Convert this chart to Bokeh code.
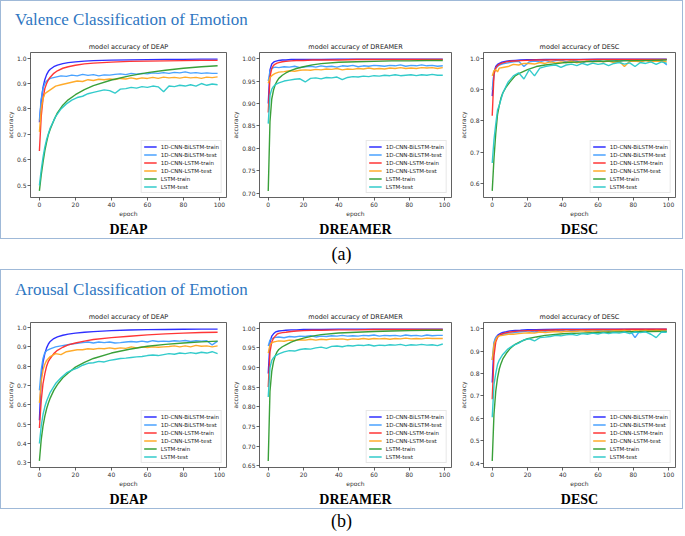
from bokeh.plotting import figure
from bokeh.layouts import column, row
from bokeh.models import Div, Title, Range1d, FixedTicker, Legend, LegendItem, NumeralTickFormatter
from bokeh.embed import file_html
from bokeh.resources import INLINE

# ---------------- data ----------------
TRAIN_EP = [0, 1, 2, 3, 4, 5, 6, 8, 10, 13, 16, 20, 25, 30, 40, 50, 60, 70, 80, 90, 99]
TEST_EP = [0, 1, 2, 3, 4, 6, 9, 12, 15, 18, 21, 24, 27, 30, 33, 36, 39, 42, 45, 48, 51, 54,
           57, 60, 63, 66, 69, 72, 75, 78, 81, 84, 87, 90, 93, 96, 99]
X_TICKS = [0, 20, 40, 60, 80, 100]

LABELS = ["1D-CNN-BiLSTM-train", "1D-CNN-BiLSTM-test", "1D-CNN-LSTM-train",
          "1D-CNN-LSTM-test", "LSTM-train", "LSTM-test"]

PANEL_TITLES = ["Valence Classification of Emotion", "Arousal Classification of Emotion"]
PANEL_TAGS = ["(a)", "(b)"]
DATASETS = ["DEAP", "DREAMER", "DESC"]

# (a) Valence - DEAP
A_DEAP_BI_TRAIN = [0.748, 0.83, 0.885, 0.915, 0.935, 0.948, 0.956, 0.966, 0.972, 0.978, 0.982, 0.985, 0.988, 0.99, 0.992, 0.993, 0.994, 0.995, 0.995, 0.996, 0.996]
A_DEAP_BI_TEST = [0.755, 0.84, 0.88, 0.9, 0.91, 0.92, 0.925, 0.93, 0.928, 0.933, 0.93, 0.936, 0.932, 0.935, 0.93, 0.934, 0.933, 0.936, 0.938, 0.935, 0.94, 0.937, 0.94, 0.938, 0.942, 0.94, 0.943, 0.94, 0.944, 0.942, 0.946, 0.941, 0.943, 0.94, 0.942, 0.94, 0.94]
A_DEAP_CL_TRAIN = [0.635, 0.77, 0.84, 0.88, 0.9, 0.915, 0.925, 0.94, 0.95, 0.96, 0.966, 0.972, 0.977, 0.98, 0.984, 0.987, 0.988, 0.989, 0.99, 0.991, 0.991]
A_DEAP_CL_TEST = [0.71, 0.8, 0.84, 0.86, 0.865, 0.875, 0.89, 0.895, 0.9, 0.905, 0.91, 0.908, 0.915, 0.912, 0.917, 0.915, 0.918, 0.916, 0.92, 0.918, 0.922, 0.918, 0.922, 0.92, 0.924, 0.92, 0.925, 0.922, 0.924, 0.921, 0.925, 0.922, 0.924, 0.92, 0.925, 0.923, 0.926]
A_DEAP_LS_TRAIN = [0.478, 0.54, 0.59, 0.635, 0.67, 0.70, 0.72, 0.755, 0.785, 0.815, 0.836, 0.856, 0.876, 0.892, 0.914, 0.93, 0.943, 0.952, 0.96, 0.966, 0.97]
A_DEAP_LS_TEST = [0.5, 0.56, 0.61, 0.65, 0.68, 0.725, 0.77, 0.8, 0.82, 0.835, 0.845, 0.85, 0.86, 0.865, 0.87, 0.875, 0.872, 0.862, 0.878, 0.88, 0.885, 0.882, 0.888, 0.885, 0.89, 0.887, 0.868, 0.89, 0.888, 0.893, 0.89, 0.895, 0.89, 0.9, 0.893, 0.898, 0.895]
A_DEAP_YTICKS = [0.5, 0.6, 0.7, 0.8, 0.9, 1.0]

# (a) Valence - DREAMER
A_DRM_BI_TRAIN = [0.90, 0.975, 0.988, 0.992, 0.994, 0.995, 0.996, 0.997, 0.997, 0.998, 0.998, 0.998, 0.998, 0.998, 0.999, 0.999, 0.999, 0.999, 0.999, 0.999, 0.999]
A_DRM_BI_TEST = [0.95, 0.972, 0.978, 0.98, 0.981, 0.98, 0.982, 0.981, 0.983, 0.98, 0.982, 0.983, 0.981, 0.984, 0.982, 0.983, 0.981, 0.984, 0.983, 0.985, 0.982, 0.984, 0.983, 0.985, 0.984, 0.983, 0.985, 0.984, 0.986, 0.983, 0.985, 0.984, 0.986, 0.984, 0.985, 0.983, 0.984]
A_DRM_CL_TRAIN = [0.88, 0.96, 0.978, 0.985, 0.988, 0.99, 0.991, 0.993, 0.994, 0.995, 0.996, 0.996, 0.997, 0.997, 0.997, 0.998, 0.998, 0.998, 0.998, 0.998, 0.998]
A_DRM_CL_TEST = [0.945, 0.958, 0.962, 0.965, 0.967, 0.97, 0.971, 0.973, 0.972, 0.974, 0.975, 0.974, 0.976, 0.975, 0.977, 0.976, 0.978, 0.975, 0.977, 0.976, 0.978, 0.977, 0.979, 0.977, 0.978, 0.977, 0.979, 0.978, 0.98, 0.978, 0.979, 0.978, 0.98, 0.979, 0.98, 0.978, 0.98]
A_DRM_LS_TRAIN = [0.705, 0.86, 0.91, 0.93, 0.942, 0.95, 0.956, 0.963, 0.968, 0.974, 0.978, 0.982, 0.986, 0.989, 0.992, 0.993, 0.994, 0.995, 0.995, 0.996, 0.996]
A_DRM_LS_TEST = [0.855, 0.918, 0.932, 0.938, 0.942, 0.946, 0.95, 0.952, 0.954, 0.955, 0.948, 0.956, 0.957, 0.955, 0.958, 0.957, 0.959, 0.953, 0.958, 0.96, 0.959, 0.961, 0.96, 0.962, 0.961, 0.963, 0.962, 0.964, 0.962, 0.963, 0.964, 0.962, 0.964, 0.963, 0.965, 0.963, 0.963]
A_DRM_YTICKS = [0.70, 0.75, 0.80, 0.85, 0.90, 0.95, 1.00]

# (a) Valence - DESC
A_DSC_BI_TRAIN = [0.88, 0.955, 0.975, 0.982, 0.985, 0.988, 0.99, 0.992, 0.994, 0.995, 0.996, 0.997, 0.997, 0.998, 0.998, 0.998, 0.999, 0.999, 0.999, 0.999, 0.999]
A_DSC_BI_TEST = [0.9, 0.955, 0.97, 0.975, 0.98, 0.984, 0.987, 0.99, 0.992, 0.975, 0.99, 0.993, 0.99, 0.995, 0.99, 0.994, 0.996, 0.99, 0.995, 0.992, 0.985, 0.995, 0.993, 0.996, 0.99, 0.995, 0.997, 0.992, 0.996, 0.994, 0.997, 0.99, 0.996, 0.993, 0.996, 0.995, 0.98]
A_DSC_CL_TRAIN = [0.817, 0.95, 0.97, 0.978, 0.982, 0.985, 0.987, 0.99, 0.992, 0.993, 0.994, 0.995, 0.996, 0.996, 0.997, 0.997, 0.998, 0.998, 0.998, 0.998, 0.998]
A_DSC_CL_TEST = [0.945, 0.962, 0.965, 0.958, 0.97, 0.972, 0.975, 0.982, 0.98, 0.985, 0.985, 0.983, 0.988, 0.985, 0.99, 0.987, 0.99, 0.988, 0.992, 0.987, 0.99, 0.993, 0.99, 0.992, 0.99, 0.993, 0.988, 0.992, 0.975, 0.992, 0.993, 0.99, 0.994, 0.99, 0.993, 0.992, 0.99]
A_DSC_LS_TRAIN = [0.575, 0.68, 0.76, 0.82, 0.85, 0.875, 0.89, 0.91, 0.925, 0.945, 0.955, 0.965, 0.975, 0.98, 0.987, 0.99, 0.992, 0.993, 0.994, 0.995, 0.996]
A_DSC_LS_TEST = [0.665, 0.74, 0.79, 0.835, 0.85, 0.89, 0.925, 0.945, 0.955, 0.935, 0.965, 0.945, 0.97, 0.975, 0.978, 0.98, 0.972, 0.98, 0.983, 0.978, 0.985, 0.98, 0.986, 0.982, 0.985, 0.978, 0.985, 0.988, 0.983, 0.987, 0.975, 0.988, 0.985, 0.99, 0.982, 0.99, 0.985]
A_DSC_YTICKS = [0.6, 0.7, 0.8, 0.9, 1.0]

# (b) Arousal - DEAP
B_DEAP_BI_TRAIN = [0.52, 0.74, 0.82, 0.865, 0.895, 0.915, 0.928, 0.943, 0.952, 0.96, 0.966, 0.971, 0.976, 0.979, 0.984, 0.987, 0.989, 0.99, 0.991, 0.992, 0.992]
B_DEAP_BI_TEST = [0.675, 0.78, 0.84, 0.87, 0.88, 0.89, 0.9, 0.905, 0.91, 0.915, 0.918, 0.922, 0.925, 0.92, 0.925, 0.922, 0.925, 0.92, 0.922, 0.925, 0.928, 0.925, 0.93, 0.925, 0.932, 0.928, 0.93, 0.928, 0.932, 0.93, 0.933, 0.928, 0.932, 0.93, 0.932, 0.91, 0.93]
B_DEAP_CL_TRAIN = [0.48, 0.62, 0.71, 0.76, 0.8, 0.825, 0.84, 0.865, 0.882, 0.898, 0.91, 0.92, 0.93, 0.938, 0.948, 0.955, 0.962, 0.967, 0.971, 0.974, 0.976]
B_DEAP_CL_TEST = [0.61, 0.72, 0.78, 0.81, 0.83, 0.85, 0.865, 0.86, 0.875, 0.88, 0.885, 0.885, 0.89, 0.888, 0.892, 0.89, 0.895, 0.89, 0.895, 0.892, 0.9, 0.895, 0.9, 0.897, 0.9, 0.898, 0.9, 0.902, 0.905, 0.9, 0.905, 0.9, 0.908, 0.903, 0.905, 0.9, 0.905]
B_DEAP_LS_TRAIN = [0.31, 0.42, 0.49, 0.54, 0.58, 0.61, 0.635, 0.675, 0.705, 0.74, 0.765, 0.795, 0.82, 0.84, 0.868, 0.888, 0.903, 0.913, 0.92, 0.926, 0.93]
B_DEAP_LS_TEST = [0.4, 0.49, 0.55, 0.59, 0.62, 0.665, 0.71, 0.74, 0.765, 0.78, 0.79, 0.805, 0.815, 0.818, 0.825, 0.822, 0.83, 0.835, 0.84, 0.842, 0.845, 0.848, 0.85, 0.855, 0.858, 0.855, 0.86, 0.865, 0.862, 0.868, 0.865, 0.87, 0.866, 0.872, 0.868, 0.875, 0.865]
B_DEAP_YTICKS = [0.3, 0.4, 0.5, 0.6, 0.7, 0.8, 0.9, 1.0]

# (b) Arousal - DREAMER
B_DRM_BI_TRAIN = [0.885, 0.965, 0.98, 0.986, 0.99, 0.992, 0.993, 0.994, 0.995, 0.996, 0.996, 0.997, 0.997, 0.997, 0.998, 0.998, 0.998, 0.998, 0.998, 0.998, 0.998]
B_DRM_BI_TEST = [0.955, 0.97, 0.974, 0.975, 0.977, 0.978, 0.976, 0.979, 0.978, 0.98, 0.979, 0.981, 0.978, 0.98, 0.979, 0.981, 0.98, 0.982, 0.98, 0.981, 0.98, 0.982, 0.981, 0.983, 0.98, 0.982, 0.981, 0.982, 0.98, 0.983, 0.981, 0.982, 0.98, 0.983, 0.981, 0.982, 0.982]
B_DRM_CL_TRAIN = [0.85, 0.94, 0.965, 0.975, 0.98, 0.985, 0.987, 0.989, 0.99, 0.992, 0.993, 0.994, 0.995, 0.995, 0.996, 0.996, 0.997, 0.997, 0.997, 0.997, 0.997]
B_DRM_CL_TEST = [0.937, 0.958, 0.963, 0.965, 0.966, 0.968, 0.967, 0.97, 0.969, 0.971, 0.97, 0.972, 0.97, 0.972, 0.971, 0.973, 0.972, 0.973, 0.971, 0.973, 0.972, 0.974, 0.972, 0.974, 0.973, 0.974, 0.972, 0.974, 0.973, 0.975, 0.973, 0.974, 0.973, 0.975, 0.974, 0.974, 0.974]
B_DRM_LS_TRAIN = [0.662, 0.84, 0.89, 0.915, 0.93, 0.94, 0.946, 0.953, 0.958, 0.965, 0.97, 0.975, 0.98, 0.984, 0.988, 0.99, 0.992, 0.993, 0.994, 0.995, 0.995]
B_DRM_LS_TEST = [0.825, 0.9, 0.918, 0.925, 0.93, 0.935, 0.94, 0.943, 0.942, 0.946, 0.948, 0.947, 0.95, 0.952, 0.949, 0.954, 0.955, 0.953, 0.956, 0.955, 0.957, 0.956, 0.958, 0.955, 0.957, 0.956, 0.958, 0.957, 0.959, 0.956, 0.958, 0.957, 0.959, 0.957, 0.958, 0.956, 0.96]
B_DRM_YTICKS = [0.65, 0.70, 0.75, 0.80, 0.85, 0.90, 0.95, 1.00]

# (b) Arousal - DESC
B_DSC_BI_TRAIN = [0.76, 0.93, 0.96, 0.97, 0.976, 0.98, 0.983, 0.986, 0.99, 0.992, 0.993, 0.995, 0.995, 0.996, 0.997, 0.997, 0.998, 0.998, 0.998, 0.998, 0.998]
B_DSC_BI_TEST = [0.86, 0.94, 0.96, 0.965, 0.97, 0.975, 0.98, 0.982, 0.985, 0.987, 0.99, 0.985, 0.99, 0.988, 0.992, 0.99, 0.993, 0.988, 0.992, 0.99, 0.994, 0.99, 0.992, 0.993, 0.99, 0.994, 0.992, 0.994, 0.99, 0.993, 0.96, 0.993, 0.99, 0.995, 0.992, 0.994, 0.99]
B_DSC_CL_TRAIN = [0.685, 0.88, 0.94, 0.96, 0.97, 0.975, 0.978, 0.982, 0.985, 0.988, 0.99, 0.991, 0.992, 0.993, 0.995, 0.995, 0.996, 0.996, 0.997, 0.997, 0.997]
B_DSC_CL_TEST = [0.86, 0.93, 0.95, 0.965, 0.968, 0.97, 0.975, 0.975, 0.978, 0.98, 0.982, 0.98, 0.985, 0.983, 0.985, 0.987, 0.985, 0.988, 0.986, 0.988, 0.99, 0.987, 0.99, 0.988, 0.99, 0.988, 0.991, 0.99, 0.992, 0.989, 0.991, 0.99, 0.992, 0.99, 0.992, 0.991, 0.99]
B_DSC_LS_TRAIN = [0.41, 0.62, 0.72, 0.78, 0.82, 0.845, 0.865, 0.89, 0.91, 0.93, 0.942, 0.955, 0.963, 0.97, 0.977, 0.98, 0.983, 0.985, 0.986, 0.987, 0.988]
B_DSC_LS_TEST = [0.605, 0.75, 0.8, 0.84, 0.86, 0.885, 0.91, 0.925, 0.935, 0.95, 0.955, 0.945, 0.96, 0.962, 0.965, 0.97, 0.968, 0.972, 0.975, 0.97, 0.978, 0.975, 0.98, 0.976, 0.982, 0.978, 0.983, 0.98, 0.985, 0.978, 0.985, 0.982, 0.986, 0.975, 0.96, 0.985, 0.984]
B_DSC_YTICKS = [0.4, 0.5, 0.6, 0.7, 0.8, 0.9, 1.0]

# ---------------- style ----------------
COLORS = ["#2424ff", "#3f9dff", "#ff2b2b", "#ffa620", "#2e9b2e", "#28c8c8"]
TITLE_BLUE = "#2f77c2"
BORDER_BLUE = "#9fb9d8"
FIG_H = 200
COL_W = [228, 227, 226]
MIN_L = [29, 30, 25]
MIN_R = [3, 5, 7]


def make_fig(dataset, series, yticks, yfmt, width, left, right):
    allv = [v for s in series for v in s]
    lo, hi = min(allv), max(allv)
    pad = 0.05 * (hi - lo)
    p = figure(width=width, height=FIG_H, output_backend="svg", toolbar_location=None,
               x_range=Range1d(-4.95, 103.95), y_range=Range1d(lo - pad, hi + pad),
               min_border_left=left, min_border_right=right, min_border_top=14,
               min_border_bottom=41, background_fill_color="white",
               border_fill_color="white")
    p.xgrid.visible = False
    p.ygrid.visible = False
    p.outline_line_color = "#3a3a3a"
    p.outline_line_width = 0.8
    p.outline_line_alpha = 1

    p.title.text = "model accuracy of " + dataset
    p.title.align = "center"
    p.title.text_font = "DejaVu Sans"
    p.title.text_font_size = "6.5px"
    p.title.text_font_style = "normal"
    p.title.text_color = "#222222"
    p.title.standoff = 3

    items = []
    for i, (lab, ys) in enumerate(zip(LABELS, series)):
        xs = TRAIN_EP if i % 2 == 0 else TEST_EP
        r = p.line(xs, ys, line_color=COLORS[i], line_width=1.4, line_alpha=0.95)
        items.append(LegendItem(label=lab, renderers=[r]))

    p.xaxis.ticker = FixedTicker(ticks=X_TICKS)
    p.yaxis.ticker = FixedTicker(ticks=yticks)
    p.yaxis.formatter = NumeralTickFormatter(format=yfmt)
    p.xaxis.axis_label = "epoch"
    p.yaxis.axis_label = "accuracy"
    for ax in (p.xaxis[0], p.yaxis[0]):
        ax.axis_line_color = None
        ax.major_tick_line_color = "#3a3a3a"
        ax.major_tick_line_width = 0.8
        ax.major_tick_out = 3
        ax.major_tick_in = 0
        ax.minor_tick_line_color = None
        ax.major_label_text_font = "DejaVu Sans"
        ax.major_label_text_font_size = "6px"
        ax.major_label_text_color = "#333333"
        ax.major_label_standoff = 1
        ax.axis_label_text_font = "DejaVu Sans"
        ax.axis_label_text_font_size = "6px"
        ax.axis_label_text_font_style = "normal"
        ax.axis_label_text_color = "#333333"
        ax.axis_label_standoff = 0

    leg = Legend(items=items, location="bottom_right", label_text_font="DejaVu Sans",
                 label_text_font_size="5.5px", label_text_color="#222222",
                 label_height=7, glyph_height=7, glyph_width=13, label_standoff=4,
                 spacing=1, padding=2, margin=4, border_line_color="#cfcfcf",
                 border_line_width=0.8, background_fill_alpha=0.85)
    p.add_layout(leg)

    p.add_layout(Title(text=dataset, align="center", text_font="Liberation Serif",
                       text_font_size="14px", text_font_style="bold", text_color="black",
                       standoff=0), "below")
    return p


PANELS = [
    [
        ([A_DEAP_BI_TRAIN, A_DEAP_BI_TEST, A_DEAP_CL_TRAIN, A_DEAP_CL_TEST, A_DEAP_LS_TRAIN, A_DEAP_LS_TEST], A_DEAP_YTICKS, "0.0"),
        ([A_DRM_BI_TRAIN, A_DRM_BI_TEST, A_DRM_CL_TRAIN, A_DRM_CL_TEST, A_DRM_LS_TRAIN, A_DRM_LS_TEST], A_DRM_YTICKS, "0.00"),
        ([A_DSC_BI_TRAIN, A_DSC_BI_TEST, A_DSC_CL_TRAIN, A_DSC_CL_TEST, A_DSC_LS_TRAIN, A_DSC_LS_TEST], A_DSC_YTICKS, "0.0"),
    ],
    [
        ([B_DEAP_BI_TRAIN, B_DEAP_BI_TEST, B_DEAP_CL_TRAIN, B_DEAP_CL_TEST, B_DEAP_LS_TRAIN, B_DEAP_LS_TEST], B_DEAP_YTICKS, "0.0"),
        ([B_DRM_BI_TRAIN, B_DRM_BI_TEST, B_DRM_CL_TRAIN, B_DRM_CL_TEST, B_DRM_LS_TRAIN, B_DRM_LS_TEST], B_DRM_YTICKS, "0.00"),
        ([B_DSC_BI_TRAIN, B_DSC_BI_TEST, B_DSC_CL_TRAIN, B_DSC_CL_TEST, B_DSC_LS_TRAIN, B_DSC_LS_TEST], B_DSC_YTICKS, "0.0"),
    ],
]

TITLE_H = [37, 38]
TITLE_PT = [9, 10]
TAG_H = [30, 25]

blocks = []
for k in range(2):
    figs = []
    for j in range(3):
        series, yt, fmt = PANELS[k][j]
        figs.append(make_fig(DATASETS[j], series, yt, fmt, COL_W[j], MIN_L[j], MIN_R[j]))
    tdiv = Div(text=('<div style="font-family:\'Liberation Serif\',serif;font-size:17px;'
                     'color:%s;padding:%dpx 0 0 14px;white-space:nowrap;line-height:20px;">%s</div>'
                     % (TITLE_BLUE, TITLE_PT[k], PANEL_TITLES[k])),
               width=681, height=TITLE_H[k], margin=(0, 0, 0, 0))
    panel = column(tdiv, row(*figs, spacing=0), spacing=0,
                   styles={"border": "1px solid " + BORDER_BLUE})
    tag = Div(text=('<div style="font-family:\'Liberation Serif\',serif;font-size:18px;'
                    'text-align:center;width:683px;line-height:%dpx;color:black;">%s</div>'
                    % (TAG_H[k], PANEL_TAGS[k])),
              width=683, height=TAG_H[k], margin=(0, 0, 0, 0))
    blocks.append(panel)
    blocks.append(tag)

page = column(*blocks, spacing=0)
open("out.html", "w").write(file_html(page, INLINE))
